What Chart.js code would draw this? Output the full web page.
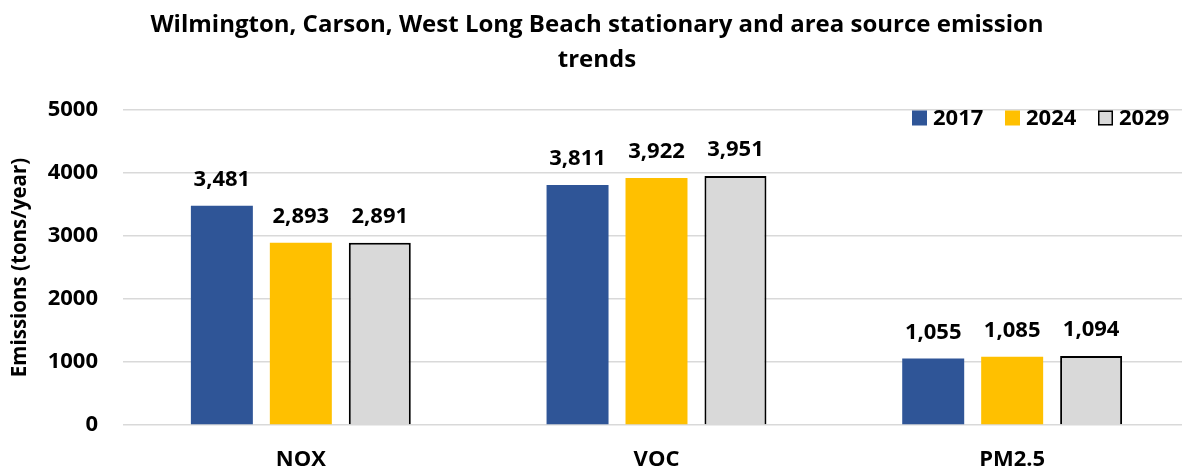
<!DOCTYPE html>
<html>
<head>
<meta charset="utf-8">
<script src="https://cdn.jsdelivr.net/npm/chart.js@4/dist/chart.umd.min.js"></script>
<style>
  html, body { margin: 0; padding: 0; background: #ffffff; overflow: hidden; }
  #wrap { width: 1190px; height: 471px; position: relative; }
</style>
</head>
<body>
<div id="wrap"><canvas id="chart" width="1190" height="471"></canvas></div>
<script>
// Pollutant categories and annual emissions (tons/year) by inventory year
const categories = ['NOX', 'VOC', 'PM2.5'];
const years = ['2017', '2024', '2029'];
const emissions2017 = [3481, 3811, 1055];
const emissions2024 = [2893, 3922, 1085];
const emissions2029 = [2891, 3951, 1094];
const yTicks = [0, 1000, 2000, 3000, 4000, 5000];

const FONT = '"Open Sans", Lato, sans-serif';
const titleLines = ['Wilmington, Carson, West Long Beach stationary and area source emission', 'trends'];

// Value labels above each bar, formatted with thousands separators
const valueLabels = {
  id: 'valueLabels',
  afterDatasetsDraw(chart) {
    const ctx = chart.ctx;
    ctx.save();
    ctx.font = 'bold 22px ' + FONT;
    ctx.fillStyle = '#000000';
    ctx.textAlign = 'center';
    ctx.textBaseline = 'middle';
    chart.data.datasets.forEach((ds, i) => {
      chart.getDatasetMeta(i).data.forEach((bar, j) => {
        ctx.fillText(ds.data[j].toLocaleString('en-US'), bar.x, bar.y - 26);
      });
    });
    ctx.restore();
  }
};

// Chart title and legend drawn over the top of the plot
const overlay = {
  id: 'overlay',
  afterDraw(chart) {
    const ctx = chart.ctx;
    ctx.save();
    ctx.fillStyle = '#000000';
    ctx.textAlign = 'center';
    ctx.textBaseline = 'middle';
    ctx.font = 'bold 24px ' + FONT;
    ctx.fillText(titleLines[0], 597, 25);
    ctx.fillText(titleLines[1], 597, 60);

    // legend
    ctx.font = 'bold 22px ' + FONT;
    ctx.textAlign = 'left';
    const xs = [912, 1005, 1098];
    chart.data.datasets.forEach((ds, i) => {
      const x = xs[i], y = 118;
      ctx.fillStyle = ds.backgroundColor;
      ctx.fillRect(x, y - 7.5, 15, 15);
      if (ds.borderColor === '#000000') {
        ctx.lineWidth = 1.5;
        ctx.strokeStyle = '#000000';
        ctx.strokeRect(x + 0.75, y - 6.75, 13.5, 13.5);
      }
      ctx.fillStyle = '#000000';
      ctx.fillText(ds.label, x + 21, y + 1);
    });
    ctx.restore();
  }
};

new Chart(document.getElementById('chart'), {
  type: 'bar',
  data: {
    labels: categories,
    datasets: [
      { label: years[0], data: emissions2017, backgroundColor: '#2F5597', borderColor: '#2F5597', borderWidth: 0 },
      { label: years[1], data: emissions2024, backgroundColor: '#FFC000', borderColor: '#FFC000', borderWidth: 0 },
      { label: years[2], data: emissions2029, backgroundColor: '#D9D9D9', borderColor: '#000000', borderWidth: 2 }
    ]
  },
  options: {
    responsive: false,
    animation: false,
    layout: { padding: { top: 110, left: 0, right: 0, bottom: 0 } },
    datasets: { bar: { categoryPercentage: 0.666, barPercentage: 0.785 } },
    plugins: {
      legend: { display: false },
      title: { display: false },
      tooltip: { enabled: false }
    },
    scales: {
      x: {
        grid: { display: false, drawTicks: false },
        border: { display: false },
        ticks: { color: '#000000', font: { family: FONT, size: 22, weight: 'bold' }, padding: 22 },
        afterFit(scale) { scale.height = 46; }
      },
      y: {
        min: 0,
        max: 5000,
        afterBuildTicks(scale) { scale.ticks = yTicks.map(v => ({ value: v })); },
        grid: { color: '#D9D9D9', lineWidth: 1.5, drawTicks: false },
        border: { display: false },
        ticks: {
          color: '#000000',
          font: { family: FONT, size: 22, weight: 'bold' },
          padding: 25,
          callback: v => String(v)
        },
        title: {
          display: true,
          text: 'Emissions (tons/year)',
          color: '#000000',
          font: { family: FONT, size: 20.5, weight: 'bold' },
          padding: { top: 8, bottom: 0 }
        },
        afterFit(scale) { scale.width = 123; }
      }
    }
  },
  plugins: [valueLabels, overlay]
});
</script>
</body>
</html>
